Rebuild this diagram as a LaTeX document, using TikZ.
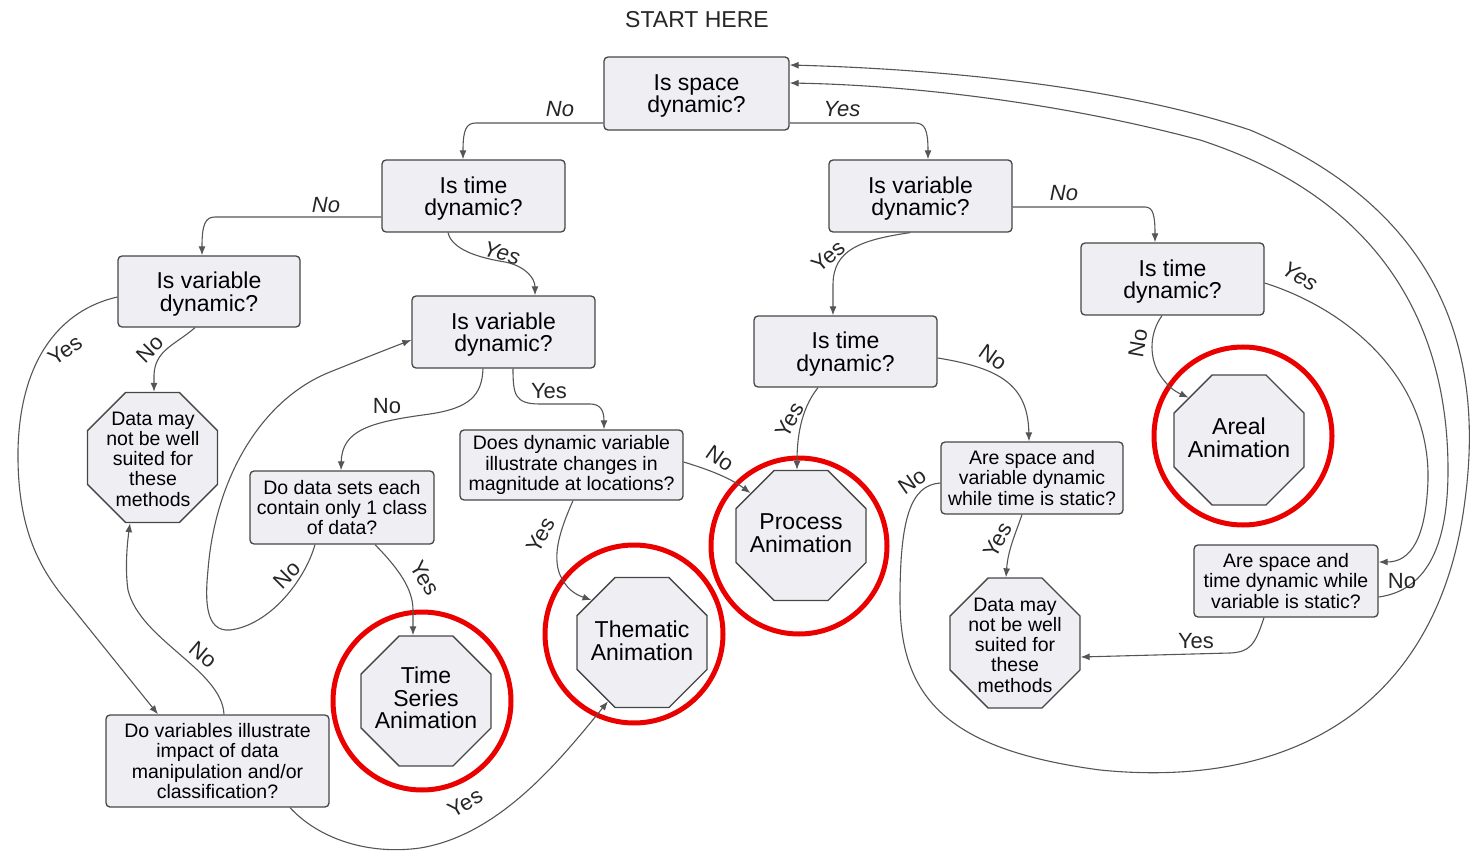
\documentclass[tikz,border=0pt]{standalone}
\usepackage{fontspec}
\setmainfont{Liberation Sans}
\usetikzlibrary{shapes.geometric,arrows.meta,calc}
\definecolor{boxfill}{RGB}{238,238,243}
\definecolor{boxline}{RGB}{70,70,70}
\definecolor{linec}{RGB}{85,85,85}
\definecolor{ringred}{RGB}{235,0,0}
\newcommand{\qf}{\fontsize{23}{22.5}\selectfont}
\newcommand{\sfz}{\fontsize{19.5}{20.3}\selectfont}
\newcommand{\lf}{\fontsize{22}{22}\selectfont}
\begin{document}
\begin{tikzpicture}[x=1pt,y=-1pt,
 qbox/.style={draw=boxline, fill=boxfill, line width=1.3pt, rounded corners=4pt, align=center, inner sep=0pt, minimum width=183pt, minimum height=72pt, font=\qf},
 bigq/.style={qbox, text depth=0pt},
 sbox/.style={qbox, font=\sfz},
 oct/.style={regular polygon, regular polygon sides=8, draw=boxline, fill=boxfill, line width=1.3pt, minimum size=140.7pt, inner sep=0pt},
 octtxt/.style={align=center, inner sep=0pt},
 conn/.style={draw=linec, line width=1.1pt, -{Latex[length=9pt,width=7pt]}},
 lab/.style={font=\lf, text=black!85, inner sep=0pt},
 ilab/.style={font=\lf\itshape, text=black!85, inner sep=0pt},
 ringst/.style={draw=ringred, line width=5pt}
]
\useasboundingbox (0,0) rectangle (1476,853);

% title
\node[font=\qf, text=black!85] (start) at (697,20) {START HERE};

% question boxes
\node[bigq, minimum width=185pt, minimum height=73pt] (S) at (696.5,93.5) {Is space\\dynamic?};
\node[bigq] (T1) at (473.5,196) {Is time\\dynamic?};
\node[bigq] (V1) at (920.5,196) {Is variable\\dynamic?};
\node[bigq, minimum width=182pt, minimum height=71pt] (V2) at (209,291.5) {Is variable\\dynamic?};
\node[bigq] (V3) at (503.5,332) {Is variable\\dynamic?};
\node[bigq] (T2) at (1172.5,279) {Is time\\dynamic?};
\node[bigq, minimum height=71pt] (T3) at (845.5,351.5) {Is time\\dynamic?};

\node[sbox, minimum width=184pt, minimum height=73pt] (D1) at (342,507.5) {Do data sets each\\contain only 1 class\\of data?};
\node[sbox, minimum width=223pt, minimum height=70pt] (D2) at (571.5,465) {Does dynamic variable\\illustrate changes in\\magnitude at locations?};
\node[sbox, minimum width=182pt] (D3) at (1032,478) {Are space and\\variable dynamic\\while time is static?};
\node[sbox, minimum width=184pt] (D4) at (1286,581) {Are space and\\time dynamic while\\variable is static?};
\node[sbox, minimum width=223pt, minimum height=92pt] (D5) at (217.5,761) {Do variables illustrate\\impact of data\\manipulation and/or\\classification?};

% octagons
\node[oct] (O1) at (152.5,457.5) {};
\node[octtxt, font=\sfz] (O1t) at (153,459) {Data may\\not be well\\suited for\\these\\methods};
\node[oct] (O2) at (1015,643) {};
\node[octtxt, font=\sfz] (O2t) at (1015,645) {Data may\\not be well\\suited for\\these\\methods};
\node[oct] (PA) at (801,535.5) {};
\node[octtxt, font=\qf] (PAt) at (801,533) {Process\\Animation};
\node[oct] (AA) at (1239,440) {};
\node[octtxt, font=\qf] (AAt) at (1239,438) {Areal\\Animation};
\node[oct] (TA) at (642,642.5) {};
\node[octtxt, font=\qf] (TAt) at (642,641) {Thematic\\Animation};
\node[oct] (TS) at (426,701) {};
\node[octtxt, font=\qf] (TSt) at (426,698) {Time\\Series\\Animation};

% red rings
\draw[ringst] (799,546) circle[radius=88pt];
\draw[ringst] (1243,436) circle[radius=89pt];
\draw[ringst] (634,634) circle[radius=89pt];
\draw[ringst] (422,701) circle[radius=89pt];

% connectors
% S -> T1 (No)
\draw[conn] (S.west |- 0,123) -- (476,123) .. controls (466,123) and (463,130) .. (T1.north -| 463,0);
\node[ilab] (l1) at (560,109) {No};
% S -> V1 (Yes)
\draw[conn] (S.east |- 0,123) -- (915,123) .. controls (925,123) and (928,130) .. (V1.north -| 928,0);
\node[ilab] (l2) at (842,109) {Yes};
% T1 -> V2 (No)
\draw[conn] (T1.west |- 0,217) -- (215,217) .. controls (205,217) and (202,225) .. (V2.north -| 202,0);
\node[ilab] (l3) at (326,205) {No};
% T1 -> V3 (Yes)
\draw[conn] (T1.south -| 448,0) .. controls (452,250) and (480,258) .. (505,262) .. controls (525,266) and (535,278) .. (V3.north -| 535,0);
\node[ilab, rotate=-15] (l4) at (502,253) {Yes};
% V1 -> T3 (Yes)
\draw[conn] (V1.south -| 910,0) .. controls (860,240) and (833,250) .. (833,285) -- (T3.north -| 833,0);
\node[lab, rotate=40] (l5) at (828,256) {Yes};
% V1 -> T2 (No)
\draw[conn] (V1.east |- 0,207) -- (1145,207) .. controls (1153,207) and (1155,215) .. (T2.north -| 1155,0);
\node[ilab] (l6) at (1064,193) {No};
% T2 -> Areal (No)
\draw[conn] (T2.south -| 1162,0) .. controls (1148,335) and (1150,360) .. (1160,375) .. controls (1166,384) and (1172,390) .. (AA.140);
\node[lab, rotate=80] (l7) at (1138,343) {No};
% T2 -> D4 (Yes)
\draw[conn] (T2.east |- 0,283) .. controls (1350,310) and (1430,380) .. (1428,480) .. controls (1426,540) and (1410,562) .. (D4.east |- 0,562);
\node[ilab, rotate=-30] (l8) at (1300,276) {Yes};
% D4 -> S (No)
\draw[conn] (D4.east |- 0,597) .. controls (1430,590) and (1448,540) .. (1448,470) .. controls (1448,330) and (1385,200) .. (1200,140) .. controls (1050,100) and (900,85) .. (S.east |- 0,83);
\node[lab] (l9) at (1402,581) {No};
% D3 -> S (No), outer loop
\draw[conn] (D3.west |- 0,483) .. controls (910,485) and (900,520) .. (900,600) .. controls (900,700) and (950,750) .. (1100,770) .. controls (1300,790) and (1440,700) .. (1465,500) .. controls (1485,350) and (1440,210) .. (1250,130) .. controls (1100,80) and (900,68) .. (S.east |- 0,65);
\node[lab, rotate=35] (l10) at (912,481) {No};
% V2 -> O1 (No)
\draw[conn] (V2.south -| 195,0) .. controls (175,345) and (155,350) .. (154,375) -- (O1.north -| 154,0);
\node[lab, rotate=45] (l11) at (150,349) {No};
% V2 -> D5 (Yes)
\draw[conn] (V2.west |- 0,297) .. controls (60,310) and (20,360) .. (18,450) .. controls (17,530) and (40,570) .. (70,605) -- (D5.north -| 158,0);
\node[lab, rotate=35] (l12) at (65,350) {Yes};
% D5 -> O1 (No)
\draw[conn] (D5.north -| 224,0) .. controls (222,670) and (140,640) .. (128,590) .. controls (125,570) and (127,545) .. (O1.south -| 130,0);
\node[lab, rotate=-40] (l13) at (203,655) {No};
% D5 -> Thematic (Yes)
\draw[conn] (D5.south -| 290,0) .. controls (320,840) and (370,855) .. (420,848) .. controls (500,835) and (560,760) .. (TA.240);
\node[lab, rotate=30] (l14) at (465,803) {Yes};
% V3 -> D1 (No)
\draw[conn] (V3.south -| 483,0) .. controls (482,395) and (470,408) .. (430,414) .. controls (370,422) and (342,430) .. (D1.north -| 341,0);
\node[lab] (l15) at (387,406) {No};
% D1 -> V3 (No)
\draw[conn] (D1.south -| 315,0) .. controls (305,580) and (270,625) .. (230,630) .. controls (205,632) and (205,600) .. (208,570) .. controls (215,480) and (260,400) .. (330,372) .. controls (360,360) and (385,350) .. (V3.west |- 0,340);
\node[lab, rotate=45] (l16) at (287,575) {No};
% D1 -> TS (Yes)
\draw[conn] (D1.south -| 375,0) .. controls (400,570) and (413,590) .. (413,610) -- (TS.north -| 413,0);
\node[lab, rotate=-60] (l17) at (425,578) {Yes};
% V3 -> D2 (Yes)
\draw[conn] (V3.south -| 513,0) .. controls (513,395) and (515,404) .. (540,404) -- (590,404) .. controls (600,404) and (604,410) .. (D2.north -| 604,0);
\node[lab] (l18) at (549,391) {Yes};
% D2 -> Thematic (Yes)
\draw[conn] (D2.south -| 573,0) .. controls (560,530) and (552,555) .. (560,575) .. controls (566,588) and (574,594) .. (TA.140);
\node[lab, rotate=60] (l19) at (541,535) {Yes};
% D2 -> Process (No)
\draw[conn] (D2.east |- 0,462) .. controls (710,470) and (730,478) .. (PA.140);
\node[lab, rotate=-35] (l20) at (720,458) {No};
% T3 -> Process (Yes)
\draw[conn] (T3.south -| 818,0) .. controls (800,410) and (797,440) .. (PA.north -| 797,0);
\node[lab, rotate=60] (l21) at (790,420) {Yes};
% T3 -> D3 (No)
\draw[conn] (T3.east |- 0,358) .. controls (1000,368) and (1028,385) .. (D3.north -| 1029,0);
\node[lab, rotate=-35] (l22) at (993,357) {No};
% D3 -> O2 (Yes)
\draw[conn] (D3.south -| 1022,0) .. controls (1015,535) and (1008,550) .. (O2.north -| 1006,0);
\node[lab, rotate=60] (l23) at (998,540) {Yes};
% D4 -> O2 (Yes)
\draw[conn] (D4.south -| 1264,0) .. controls (1255,645) and (1250,652) .. (1230,653) -- (O2.east |- 0,657);
\node[lab] (l24) at (1196,641) {Yes};
\end{tikzpicture}
\end{document}
